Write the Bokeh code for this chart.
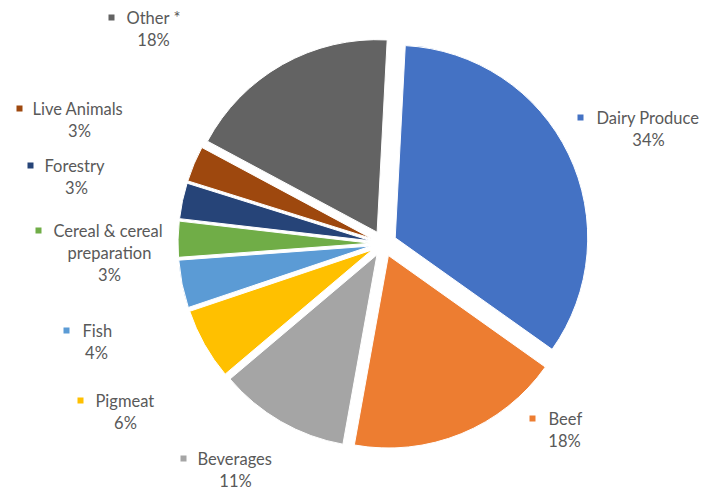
import numpy as np
from bokeh.plotting import figure
from bokeh.models import Range1d
from bokeh.embed import file_html
from bokeh.resources import INLINE
from bokeh.core.properties import value

# ---- data ----
categories = ["Dairy Produce", "Beef", "Beverages", "Pigmeat", "Fish",
              "Cereal & cereal preparation", "Forestry", "Live Animals", "Other *"]
shares = [34, 18, 11, 6, 4, 3, 3, 3, 18]
colors = ["#4472C4", "#ED7D31", "#A5A5A5", "#FFC000", "#5B9BD5",
          "#70AD47", "#264478", "#9E480E", "#636363"]
name_lines = [["Dairy Produce"], ["Beef"], ["Beverages"], ["Pigmeat"], ["Fish"],
              ["Cereal & cereal", "preparation"], ["Forestry"], ["Live Animals"], ["Other *"]]

# ---- layout (picture pixel coordinates) ----
W, H = 713, 490
CX, CY = 383.0, 243.0      # pie centre
R = 192.5                  # radius
EXPLODE = 13.0             # explosion offset
ROT = np.deg2rad(3.0)      # angle of first slice
# key centre x, key/name y, name left x, pct centre x
label_layout = [
    (580, 117, 596, 648),
    (532, 418, 548, 564),
    (183, 458, 197, 235),
    (80, 400, 95, 125),
    (66, 330, 82, 96),
    (38, 230, 53, 109),
    (30, 165, 44, 76),
    (19, 108, 32, 79),
    (111, 17, 126, 153),
]
LINE_H = 22.0


def Y(py):
    return H - py


p = figure(width=W, height=H, x_range=Range1d(0, W), y_range=Range1d(0, H),
           output_backend="svg", toolbar_location=None, min_border=0)
p.axis.visible = False
p.grid.visible = False
p.outline_line_color = None
p.background_fill_color = "white"
p.border_fill_color = "white"

frac = np.array(shares, dtype=float) / sum(shares)
cum = np.concatenate([[0.0], np.cumsum(frac)])
start = np.pi / 2 - ROT - 2 * np.pi * cum[:-1]
end = np.pi / 2 - ROT - 2 * np.pi * cum[1:]
mid = (start + end) / 2
xs = CX + EXPLODE * np.cos(mid)
ys = Y(CY) + EXPLODE * np.sin(mid)

p.wedge(x=xs, y=ys, radius=R, start_angle=start, end_angle=end, direction="clock",
        fill_color=colors, line_color="white", line_width=1)

font = value("Lato")
fs = "16.5px"
tc = "#595959"
for (kx, ky, nx, pcx), lines, s, c in zip(label_layout, name_lines, shares, colors):
    p.rect(x=[kx], y=[Y(ky)], width=6, height=6, fill_color=c, line_color=None)
    for i, ln in enumerate(lines):
        if i == 0:
            p.text(x=[nx], y=[Y(ky)], text=[ln], text_font=font, text_font_size=fs,
                   text_color=tc, text_align="left", text_baseline="middle")
        else:
            p.text(x=[pcx], y=[Y(ky + i * LINE_H)], text=[ln], text_font=font, text_font_size=fs,
                   text_color=tc, text_align="center", text_baseline="middle")
    p.text(x=[pcx], y=[Y(ky + len(lines) * LINE_H)], text=[f"{s}%"], text_font=font,
           text_font_size=fs, text_color=tc, text_align="center", text_baseline="middle")

open("out.html", "w").write(file_html(p, INLINE))
